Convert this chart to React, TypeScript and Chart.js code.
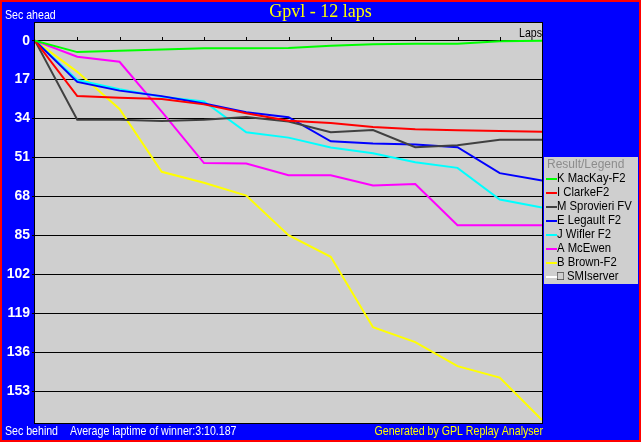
import React, { useEffect, useRef } from "react";
import { Chart, registerables } from "chart.js";

Chart.register(...registerables);

const laps = [0, 1, 2, 3, 4, 5, 6, 7, 8, 9, 10, 11, 12];
const yTicks = [0, 17, 34, 51, 68, 85, 102, 119, 136, 153];

const driverNames = [
  "K MacKay-F2",
  "I ClarkeF2",
  "M Sprovieri FV",
  "E Legault F2",
  "J Wifler F2",
  "A McEwen",
  "B Brown-F2",
  "\u25A1 SMIserver",
];
const driverColors = ["#00ff00", "#ff0000", "#404040", "#0000ff", "#00ffff", "#ff00ff", "#ffff00", "#ffffff"];

const mackay = [0, 5.0, 4.4, 3.9, 3.3, 3.3, 3.2, 2.2, 1.6, 1.3, 1.3, 0.3, 0];
const clarke = [0, 24.2, 24.9, 25.5, 27.8, 31.7, 34.9, 35.9, 37.7, 38.7, 39.1, 39.4, 39.7];
const sprovieri = [0, 34.5, 34.5, 35.1, 34.5, 33.3, 35.3, 40.0, 39.0, 46.5, 45.6, 43.2, 43.2];
const legault = [0, 18.0, 21.8, 24.2, 27.4, 31.2, 33.4, 43.9, 44.9, 45.3, 46.5, 57.8, 61.0];
const wifler = [0, 17.2, 21.2, 24.5, 26.5, 40.0, 42.3, 46.6, 49.1, 53.0, 55.5, 69.3, 72.8];
const mcewen = [0, 7.0, 9.2, 31.0, 53.4, 53.6, 58.7, 58.7, 63.2, 62.5, 80.5, 80.5, 80.5];
const brown = [0, 13.6, 29.8, 57.2, 62.0, 67.6, 84.9, 94.3, 125.0, 131.5, 142.0, 147.0, 165.5];
const smiserver: (number | null)[] = [];

const seriesValues = [mackay, clarke, sprovieri, legault, wifler, mcewen, brown, smiserver];

const titleText = "Gpvl - 12 laps";
const topLeftText = "Sec ahead";
const bottomLeftText = "Sec behind";
const avgText = "Average laptime of winner:3:10.187";
const generatedText = "Generated by GPL Replay Analyser";
const lapsText = "Laps";
const legendTitle = "Result/Legend";

const SANS = "'Liberation Sans', Arial, sans-serif";
const SERIF = "'Liberation Serif', 'Times New Roman', serif";

function narrowText(ctx: CanvasRenderingContext2D, text: string, x: number, y: number, align: CanvasTextAlign, sx = 0.815) {
  ctx.save();
  ctx.translate(x, y);
  ctx.scale(sx, 1);
  ctx.textAlign = align;
  ctx.fillText(text, 0, 0);
  ctx.restore();
}

const framePlugin = {
  id: "gplFrame",
  beforeDraw(chart: any) {
    const { ctx, width, height, chartArea } = chart;
    ctx.save();
    ctx.fillStyle = "#0000ff";
    ctx.fillRect(0, 0, width, height);
    ctx.strokeStyle = "#ff0000";
    ctx.lineWidth = 2;
    ctx.strokeRect(1, 1, width - 2, height - 2);
    ctx.fillStyle = "#cfcfcf";
    ctx.fillRect(chartArea.left, chartArea.top, chartArea.right - chartArea.left, chartArea.bottom - chartArea.top);
    ctx.restore();
  },
  afterDraw(chart: any) {
    const { ctx, width, chartArea, scales } = chart;
    const xs = scales.x;
    const ys = scales.y;
    ctx.save();
    // plot border
    ctx.strokeStyle = "#000000";
    ctx.lineWidth = 1;
    ctx.strokeRect(chartArea.left - 0.5, chartArea.top - 0.5, chartArea.right - chartArea.left + 1, chartArea.bottom - chartArea.top + 1);
    // lap tick marks on the zero line
    const y0 = Math.round(ys.getPixelForValue(0));
    ctx.beginPath();
    for (let i = 1; i < laps.length - 1; i++) {
      const px = Math.round(xs.getPixelForValue(laps[i])) + 0.5;
      ctx.moveTo(px, y0 - 4);
      ctx.lineTo(px, y0);
    }
    ctx.stroke();

    // texts
    ctx.textBaseline = "middle";
    ctx.font = `18px ${SERIF}`;
    ctx.fillStyle = "#ffff00";
    ctx.textAlign = "center";
    ctx.fillText(titleText, width / 2, 12);

    ctx.font = `13px ${SANS}`;
    ctx.fillStyle = "#ffffff";
    narrowText(ctx, topLeftText, 5, 15, "left");
    narrowText(ctx, bottomLeftText, 5, 431, "left");
    narrowText(ctx, avgText, 70, 431, "left");
    ctx.fillStyle = "#ffff00";
    narrowText(ctx, generatedText, chartArea.right + 1, 431, "right");
    ctx.fillStyle = "#000000";
    narrowText(ctx, lapsText, chartArea.right, 33, "right");

    // legend
    const lx = 544;
    const ly = 157;
    ctx.fillStyle = "#cfcfcf";
    ctx.fillRect(lx, ly, 94, 127);
    ctx.font = `12px ${SANS}`;
    ctx.textAlign = "left";
    ctx.fillStyle = "#8c8c8c";
    ctx.fillText(legendTitle, lx + 3, ly + 8);
    ctx.font = `13px ${SANS}`;
    chart.data.datasets.forEach((ds: any, i: number) => {
      const cy = ly + 21.5 + i * 14;
      ctx.strokeStyle = ds.borderColor;
      ctx.lineWidth = 2;
      ctx.beginPath();
      ctx.moveTo(lx + 2, Math.round(cy));
      ctx.lineTo(lx + 13, Math.round(cy));
      ctx.stroke();
      ctx.fillStyle = "#000000";
      narrowText(ctx, ds.label, lx + 13, cy, "left", 0.87);
    });
    ctx.restore();
  },
};

export default function App() {
  const canvasRef = useRef<HTMLCanvasElement | null>(null);

  useEffect(() => {
    if (!canvasRef.current) return;
    const datasets = seriesValues.map((vals, i) => ({
      label: driverNames[i],
      data: vals.map((v, j) => ({ x: laps[j], y: v })),
      borderColor: driverColors[i],
      backgroundColor: driverColors[i],
      borderWidth: 2,
      pointRadius: 0,
      tension: 0,
      fill: false,
    }));
    const chart = new Chart(canvasRef.current, {
      type: "line",
      data: { datasets },
      options: {
        responsive: false,
        animation: false,
        devicePixelRatio: 1,
        layout: { padding: { top: 23, right: 99, bottom: 19, left: 0 } },
        plugins: {
          legend: { display: false },
          tooltip: { enabled: false },
          title: { display: false },
        },
        scales: {
          x: {
            type: "linear",
            min: 0,
            max: 12,
            display: false,
          },
          y: {
            type: "linear",
            reverse: true,
            min: -7.7,
            max: 166.8,
            afterBuildTicks: (scale: any) => {
              scale.ticks = yTicks.map((v) => ({ value: v }));
            },
            afterFit: (scale: any) => {
              scale.width = 35;
            },
            border: { display: false },
            grid: {
              color: "#000000",
              lineWidth: 1,
              drawTicks: true,
              tickLength: 3,
            },
            ticks: {
              color: "#ffffff",
              padding: 2,
              font: { family: SANS, size: 14, weight: "bold" },
              callback: (v: any) => String(v),
            },
          },
        },
      },
      plugins: [framePlugin],
    } as any);
    return () => chart.destroy();
  }, []);

  return (
    <div style={{ position: "absolute", left: 0, top: 0, width: 641, height: 442 }}>
      <canvas ref={canvasRef} width={641} height={442} style={{ display: "block" }} />
    </div>
  );
}
